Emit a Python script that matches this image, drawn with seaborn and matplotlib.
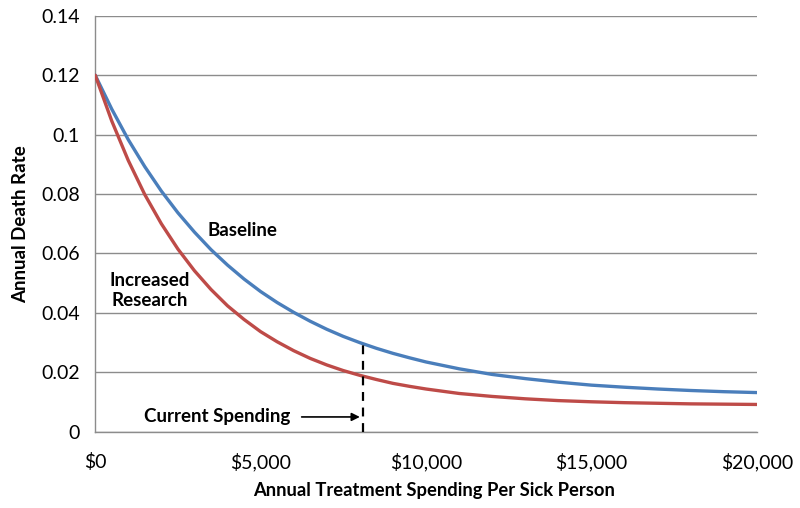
import matplotlib
matplotlib.use("Agg")
import matplotlib.pyplot as plt
import seaborn as sns
import pandas as pd
from matplotlib.ticker import FuncFormatter

# values
spending = [0, 500, 1000, 1500, 2000, 2500, 3000, 3500, 4000, 4500, 5000, 5500, 6000, 6500,
            7000, 7500, 8000, 8500, 9000, 9500, 10000,
            11000, 12000, 13000, 14000, 15000, 16000, 17000, 18000, 19000, 20000]
baseline = [0.120, 0.1086, 0.0983, 0.0892, 0.0810, 0.0737, 0.0672, 0.0613, 0.0561, 0.0514,
            0.0472, 0.0435, 0.0402, 0.0372, 0.0345, 0.0321, 0.0300, 0.0281, 0.0264, 0.0249, 0.0235,
            0.0212, 0.0193, 0.0179, 0.0167, 0.0157, 0.0150, 0.0144, 0.0139, 0.0135, 0.0132]
research = [0.120, 0.1046, 0.0913, 0.0798, 0.0700, 0.0615, 0.0542, 0.0479, 0.0424, 0.0378,
            0.0337, 0.0303, 0.0273, 0.0247, 0.0225, 0.0206, 0.0190, 0.0176, 0.0163, 0.0153, 0.0144,
            0.0129, 0.0119, 0.0111, 0.0105, 0.0101, 0.0098, 0.0096, 0.0094, 0.0093, 0.0092]
current_spending = 8100
current_rate = 0.0298

df = pd.DataFrame({"spending": spending * 2,
                   "rate": baseline + research,
                   "scenario": ["Baseline"] * len(spending) + ["Increased Research"] * len(spending)})

sns.set_style("white")
plt.rcParams["font.family"] = ["Lato", "DejaVu Sans"]

fig = plt.figure(figsize=(8, 5.08), dpi=100)
ax = fig.add_axes([0.119, 0.150, 0.827, 0.819])

sns.lineplot(data=df, x="spending", y="rate", hue="scenario",
             palette={"Baseline": "#4a7ebb", "Increased Research": "#be4b48"},
             linewidth=2.4, legend=False, ax=ax, zorder=3)
for line in ax.get_lines():
    line.set_solid_joinstyle("round")

ax.plot([current_spending, current_spending], [0, current_rate], color="black",
        linestyle=(0, (4, 3)), linewidth=1.6, zorder=4)

ax.set_xlim(0, 20000)
ax.set_ylim(0, 0.14)
ax.set_xticks([0, 5000, 10000, 15000, 20000])
ax.set_yticks([0, 0.02, 0.04, 0.06, 0.08, 0.1, 0.12, 0.14])
ax.xaxis.set_major_formatter(FuncFormatter(lambda v, p: "${:,.0f}".format(v)))
ax.yaxis.set_major_formatter(FuncFormatter(lambda v, p: "0" if v == 0 else "{:g}".format(round(v, 2))))

ax.grid(axis="y", color="#8c8c8c", linewidth=1.0)
ax.grid(axis="x", visible=False)
for s in ["top", "right"]:
    ax.spines[s].set_visible(False)
for s in ["left", "bottom"]:
    ax.spines[s].set_color("#8c8c8c")
    ax.spines[s].set_linewidth(1.0)

ax.tick_params(axis="both", which="major", direction="out", length=6, width=1.0,
               color="#8c8c8c", labelsize=14, labelcolor="black")
ax.tick_params(axis="x", pad=9)
ax.tick_params(axis="y", pad=5)

ax.set_xlabel("Annual Treatment Spending Per Sick Person", fontsize=13.2, fontweight="bold",
              labelpad=8, color="black")
ax.xaxis.label.set_x(0.512)
ax.set_ylabel("Annual Death Rate", fontsize=13.5, fontweight="bold", labelpad=9, color="black")

ax.text(4440, 0.0676, "Baseline", fontsize=13.5, fontweight="bold", ha="center", va="center",
        color="black")
ax.text(1660, 0.0475, "Increased\nResearch", fontsize=13.5, fontweight="bold",
        ha="center", va="center", linespacing=1.25, color="black")
ax.annotate("Current Spending", xy=(8000, 0.005), xytext=(5890, 0.005),
            fontsize=13.5, fontweight="bold", ha="right", va="center", color="black",
            arrowprops=dict(arrowstyle="-|>", color="black", lw=1.2, shrinkA=6, shrinkB=0,
                            mutation_scale=12))

fig.savefig("out.png", dpi=100)
